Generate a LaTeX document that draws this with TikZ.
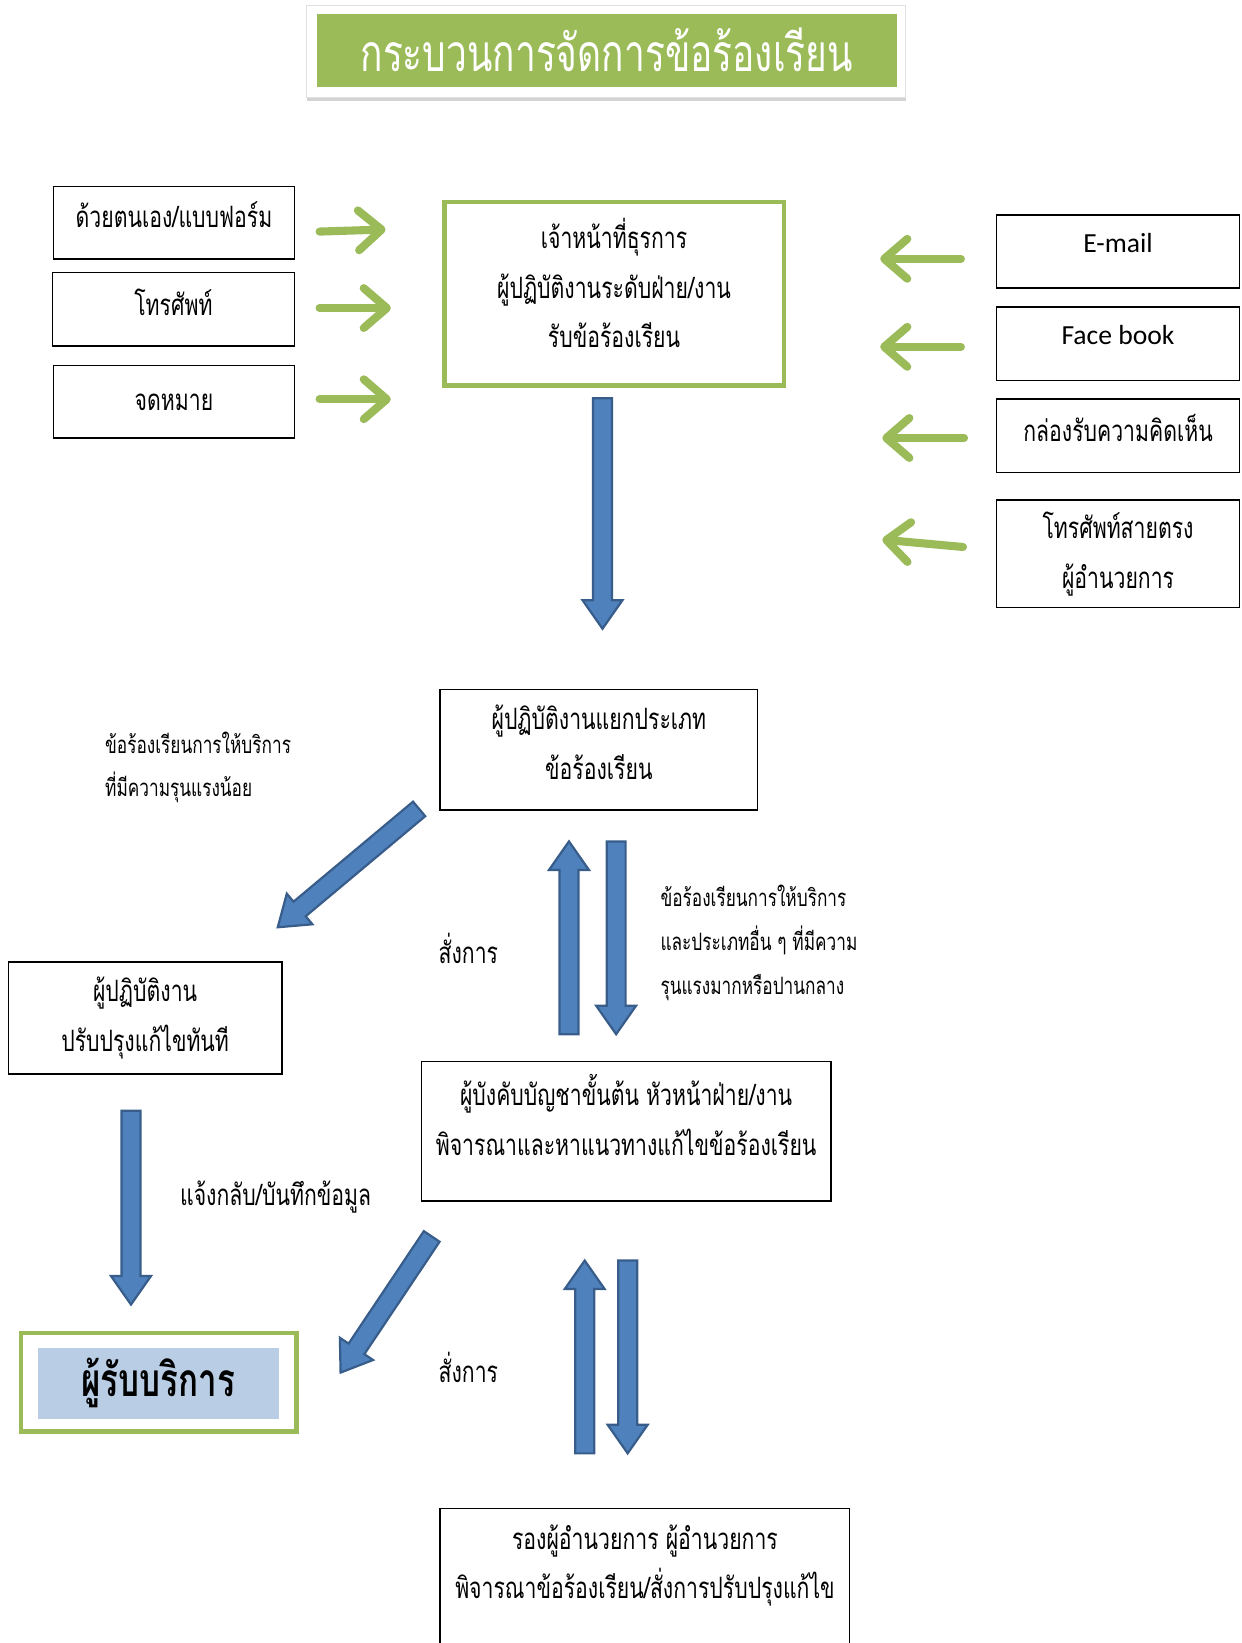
\documentclass[tikz,border=0pt]{standalone}
\usepackage{fontspec}
\newfontfamily\thfont[Script=Thai,FakeStretch=0.72]{Loma}
\newfontfamily\enfont{Carlito}
\usetikzlibrary{arrows.meta,shapes.arrows,shadows,calc}
\definecolor{officegreen}{HTML}{9BBB59}
\definecolor{officeblue}{HTML}{4F81BD}
\definecolor{officebluedark}{HTML}{385D8A}
\definecolor{servblue}{HTML}{B9CDE5}
\tikzset{
  box/.style={draw, line width=0.8pt, inner sep=0pt, align=center,
    font=\thfont\fontsize{16}{27}\selectfont},
  note/.style={align=left, inner sep=0pt, font=\thfont\fontsize{13}{24}\selectfont},
  greenarrow/.style={draw=officegreen, line width=4.4pt, line cap=round,
    -{Straight Barb[length=0.44cm,width=0.76cm,line cap=round,line join=round]}},
  bluearrow/.style={single arrow, draw=officebluedark, fill=officeblue, line width=1.2pt,
    inner sep=0.16cm, outer sep=0pt, single arrow head extend=0.2cm,
    minimum width=0.72cm, single arrow tip angle=70, anchor=tail}
}
\newcommand\blockarrow[3]{\path let \p1=(#2), \p2=(#3),
  \n1={atan2(\y2-\y1,\x2-\x1)}, \n2={veclen(\x2-\x1,\y2-\y1)} in
  node[bluearrow, minimum height=\n2, rotate=\n1] (#1) at (\p1) {};}
\begin{document}
\begin{tikzpicture}[x=0.02cm,y=-0.02cm]
  \useasboundingbox (0,0) rectangle (1185,1568);

  \node[fill=white, draw=black!12, minimum width=11.44cm, minimum height=1.76cm,
    drop shadow={shadow xshift=0.5pt, shadow yshift=-2pt, opacity=0.35}] (titleframe) at (578,49) {};
  \node[fill=officegreen, minimum width=11.08cm, minimum height=1.4cm, text=white,
    font=\thfont\fontsize{28}{30}\selectfont] (title) at (579,48) {กระบวนการจัดการข้อร้องเรียน};

  \begin{scope}[every node/.style={box}]
    \node[minimum width=4.6cm,  minimum height=1.38cm, text depth=0.3cm] (self)   at (166,212.5) {ด้วยตนเอง/แบบฟอร์ม};
    \node[minimum width=4.62cm, minimum height=1.4cm, text depth=0.25cm]  (phone)  at (165.5,295) {โทรศัพท์};
    \node[minimum width=4.6cm,  minimum height=1.38cm] (letter) at (166,383.5) {จดหมาย};
    \node[minimum width=6.48cm, minimum height=3.5cm, draw=officegreen, line width=2.4pt, text depth=0.42cm] (clerk) at (586,280.5)
      {เจ้าหน้าที่ธุรการ\\ผู้ปฏิบัติงานระดับฝ่าย/งาน\\รับข้อร้องเรียน};
    \node[minimum width=4.64cm, minimum height=1.4cm, text depth=0.34cm, font=\enfont\fontsize{15}{20}\selectfont] (email) at (1067,240) {E-mail};
    \node[minimum width=4.64cm, minimum height=1.4cm, text depth=0.34cm, font=\enfont\fontsize{15}{20}\selectfont] (facebook) at (1067,328) {Face book};
    \node[minimum width=4.64cm, minimum height=1.4cm, text depth=0.3cm]  (commentbox) at (1067,416) {กล่องรับความคิดเห็น};
    \node[minimum width=4.64cm, minimum height=2.06cm] (hotline) at (1067,528.5) {โทรศัพท์สายตรง\\ผู้อำนวยการ};
    \node[minimum width=6.06cm, minimum height=2.3cm, text depth=0.3cm]  (sort)   at (571.5,715.5) {ผู้ปฏิบัติงานแยกประเภท\\ข้อร้องเรียน};
    \node[minimum width=5.22cm, minimum height=2.14cm] (fix)    at (138.5,971.5) {ผู้ปฏิบัติงาน\\ปรับปรุงแก้ไขทันที};
    \node[minimum width=7.82cm, minimum height=2.66cm, text depth=0.62cm] (senior) at (597.5,1079.5)
      {ผู้บังคับบัญชาขั้นต้น หัวหน้าฝ่าย/งาน\\พิจารณาและหาแนวทางแก้ไขข้อร้องเรียน};
    \node[minimum width=7.82cm, minimum height=3.4cm, anchor=north] (director) at (615.5,1439) {};
    \node[draw=officegreen, line width=2.4pt, minimum width=5.26cm, minimum height=1.88cm] (servframe) at (151.5,1319) {};
    \node[draw=none, fill=servblue, minimum width=4.6cm, minimum height=1.36cm,
      font=\thfont\bfseries\fontsize{25}{28}\selectfont] (serv) at (151,1320) {ผู้รับบริการ};
  \end{scope}

  \node[box, draw=none] (directortext) at (615.5,1494) {รองผู้อำนวยการ ผู้อำนวยการ\\พิจารณาข้อร้องเรียน/สั่งการปรับปรุงแก้ไข};

  \node[note, anchor=west, font=\thfont\fontsize{13}{23.5}\selectfont] (minor) at (100,732) {ข้อร้องเรียนการให้บริการ\\ที่มีความรุนแรงน้อย};
  \node[note, anchor=west] (major) at (630,900)
    {ข้อร้องเรียนการให้บริการ\\และประเภทอื่น ๆ ที่มีความ\\รุนแรงมากหรือปานกลาง};
  \node[note, font=\thfont\fontsize{16}{24}\selectfont] (order1) at (447,905) {สั่งการ};
  \node[note, font=\thfont\fontsize{16}{24}\selectfont] (order2) at (447,1305) {สั่งการ};
  \node[note, font=\thfont\fontsize{16}{24}\selectfont] (feedback) at (263,1142) {แจ้งกลับ/บันทึกข้อมูล};

  \coordinate (g1s) at (305,221);  \coordinate (g1e) at (368,219);
  \coordinate (g2s) at (305,294);  \coordinate (g2e) at (373,294);
  \coordinate (g3s) at (305,381);  \coordinate (g3e) at (373,381);
  \coordinate (g4s) at (917,247);  \coordinate (g4e) at (840,247);
  \coordinate (g5s) at (917,331);  \coordinate (g5e) at (840,331);
  \coordinate (g6s) at (920,418);  \coordinate (g6e) at (842,418);
  \coordinate (g7s) at (919,522);  \coordinate (g7e) at (842,515);
  \foreach \i in {1,...,7}
    \draw[greenarrow] (g\i s) -- (g\i e);

  \coordinate (b1s) at (575,380);  \coordinate (b1e) at (575,600);
  \coordinate (b2s) at (400,772);  \coordinate (b2e) at (265,885);
  \coordinate (b3s) at (543,987);  \coordinate (b3e) at (543,803);
  \coordinate (b4s) at (588,803);  \coordinate (b4e) at (588,987);
  \coordinate (b5s) at (125,1060); \coordinate (b5e) at (125,1245);
  \coordinate (b6s) at (412,1180); \coordinate (b6e) at (325,1310);
  \coordinate (b7s) at (558,1387); \coordinate (b7e) at (558,1203);
  \coordinate (b8s) at (599,1203); \coordinate (b8e) at (599,1387);
  \foreach \i in {1,...,8}
    {\blockarrow{blue\i}{b\i s}{b\i e}}

\end{tikzpicture}
\end{document}
